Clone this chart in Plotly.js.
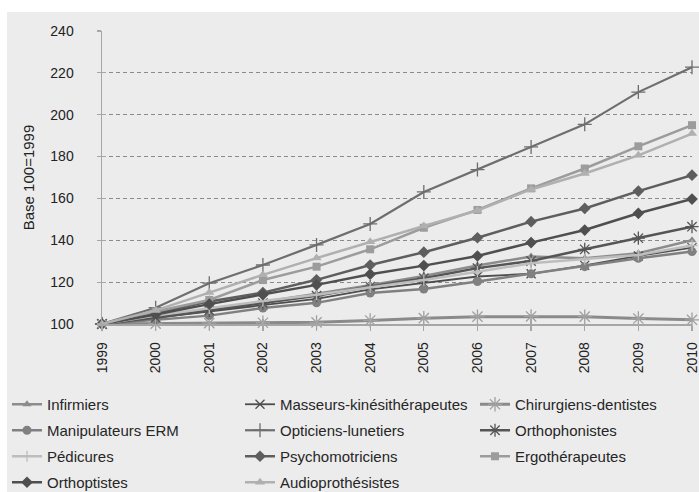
<!DOCTYPE html>
<html>
<head>
<meta charset="utf-8">
<script src="https://cdn.plot.ly/plotly-3.0.1.min.js"></script>
<style>html,body{margin:0;padding:0;background:#fff;}#chart{width:699px;height:492px;}</style>
</head>
<body>
<div id="chart"></div>
<script>
var years = ['1999','2000','2001','2002','2003','2004','2005','2006','2007','2008','2009','2010'];
var yTicks = [100,120,140,160,180,200,220,240];

var infirmiers       = [100, 103.5, 107, 110.5, 114.5, 118.5, 123, 128, 132.2, 131.4, 133.8, 140];
var masseurs         = [100, 103, 106, 109, 112, 116.5, 119.5, 122.7, 124, 128, 132.5, 136.5];
var chirurgiens      = [100, 100.2, 100.4, 100.6, 100.8, 101.7, 102.8, 103.5, 103.6, 103.5, 102.6, 102];
var manipulateurs    = [100, 102, 104, 107.6, 110.1, 114.8, 116.7, 120.3, 124, 127.4, 131.4, 134.6];
var opticiens        = [100, 107.8, 119.5, 128.2, 137.8, 147.8, 163.1, 173.8, 184.6, 195.4, 210.8, 222.7];
var orthophonistes   = [100, 103, 106.5, 110, 113.5, 117.9, 121.9, 126.7, 130.1, 135.7, 141, 146.5];
var pedicures        = [100, 104, 107.5, 111, 114, 117.5, 121, 125, 129, 131, 133, 137.5];
var psychomotriciens = [100, 105, 110.8, 115, 121.1, 128.2, 134.3, 141.2, 148.9, 155.2, 163.5, 171.1];
var ergotherapeutes  = [100, 106, 111.5, 121, 127.4, 135.7, 146, 154.5, 164.8, 174.3, 184.9, 195];
var orthoptistes     = [100, 104.5, 109.5, 114, 118.7, 123.8, 127.9, 132.5, 138.9, 144.9, 152.9, 159.7];
var audioprothesistes= [100, 106.5, 115, 123.5, 131.5, 139.3, 146.8, 154.2, 164.3, 171.9, 180.6, 191];

var series = [
  {name:'Infirmiers', y:infirmiers, color:'#8c8c8c', sym:'triangle-up', size:8, lw:2.5, leg:'legend'},
  {name:'Masseurs-kinésithérapeutes', y:masseurs, color:'#4d4d4d', sym:'x-thin-open', size:9, lw:1.8, leg:'legend2'},
  {name:'Chirurgiens-dentistes', y:chirurgiens, color:'#8a8a8a', sym:'asterisk-open', size:12, lw:3, leg:'legend3', mcol:'#a0a0a0'},
  {name:'Manipulateurs ERM', y:manipulateurs, color:'#808080', sym:'circle', size:9, lw:2.5, leg:'legend'},
  {name:'Opticiens-lunetiers', y:opticiens, color:'#6e6e6e', sym:'cross-thin-open', size:10, lw:2.2, leg:'legend2'},
  {name:'Orthophonistes', y:orthophonistes, color:'#555555', sym:'asterisk-open', size:11, lw:2.5, leg:'legend3'},
  {name:'Pédicures', y:pedicures, color:'#bdbdbd', sym:'cross-thin-open', size:8, lw:2.5, leg:'legend'},
  {name:'Psychomotriciens', y:psychomotriciens, color:'#5e5e5e', sym:'diamond', size:9, lw:2.5, leg:'legend2'},
  {name:'Ergothérapeutes', y:ergotherapeutes, color:'#9c9c9c', sym:'square', size:8, lw:2.5, leg:'legend3'},
  {name:'Orthoptistes', y:orthoptistes, color:'#4f4f4f', sym:'diamond', size:9, lw:2.5, leg:'legend'},
  {name:'Audioprothésistes', y:audioprothesistes, color:'#b0b0b0', sym:'triangle-up', size:9, lw:2.5, leg:'legend2'}
];

var traces = series.map(function(s){
  var open = s.sym.indexOf('open') >= 0;
  return {
    type:'scatter', mode:'lines+markers', name:s.name, x:years, y:s.y,
    legend:s.leg, legendgroup:s.name, cliponaxis:false,
    line:{color:s.color, width:s.lw},
    marker:{symbol:s.sym, size:s.size, color:s.mcol||s.color,
            line:{color:s.mcol||s.color, width: open ? 1.3 : 0}}
  };
});
// overlay axis only used to draw the inner half of the crossing ticks
traces.push({type:'scatter', x:[], y:[], xaxis:'x2', yaxis:'y2', showlegend:false, hoverinfo:'skip'});

var F = 'Arial, "Liberation Sans", sans-serif';
var W = 699, H = 492, L = 102, R = 7, T = 31, B = 168;
var pw = W - L - R, ph = H - T - B;
function px(x){ return (x - L) / pw; }
function py(y){ return (H - B - y) / ph; }

var legBase = {orientation:'v', xanchor:'left', yanchor:'top', bgcolor:'rgba(0,0,0,0)',
  font:{family:F, size:15, color:'#262626'}, tracegroupgap:3.5, itemclick:false};
function leg(x){ var o = JSON.parse(JSON.stringify(legBase)); o.x = px(x); o.y = py(388); return o; }

var layout = {
  width:W, height:H,
  margin:{l:L, r:R, t:T, b:B, pad:0, autoexpand:false},
  paper_bgcolor:'#ececec', plot_bgcolor:'#ececec',
  font:{family:F, size:14, color:'#222'},
  showlegend:true,
  xaxis:{type:'category', categoryorder:'array', categoryarray:years, range:[0, years.length-1],
    showgrid:false, zeroline:false, showline:true, linecolor:'#a6a6a6', linewidth:1.5,
    ticks:'outside', ticklen:5, tickcolor:'#a6a6a6', tickwidth:1.2, tickangle:-90,
    tickfont:{family:F, size:14, color:'#222'}, ticklabelstandoff:6, automargin:false},
  yaxis:{range:[100,240], tickvals:yTicks, showgrid:true, gridcolor:'#8a8a8a', gridwidth:1, griddash:'4px,3px',
    zeroline:false, showline:true, linecolor:'#a6a6a6', linewidth:1.5,
    ticks:'outside', ticklen:4, tickcolor:'#a6a6a6', tickwidth:1.2,
    tickfont:{family:F, size:14, color:'#222'}, ticklabelstandoff:20, automargin:false,
    title:{text:'Base 100=1999', font:{family:F, size:15, color:'#222'}, standoff:12}},
  xaxis2:{type:'category', categoryorder:'array', categoryarray:years, range:[0, years.length-1],
    overlaying:'x', anchor:'y2', showgrid:false, zeroline:false, showline:false,
    ticks:'inside', ticklen:5, tickcolor:'#a6a6a6', tickwidth:1.2, showticklabels:false},
  yaxis2:{range:[100,240], tickvals:yTicks, overlaying:'y', anchor:'x2', side:'left',
    showgrid:false, zeroline:false, showline:false,
    ticks:'inside', ticklen:4, tickcolor:'#a6a6a6', tickwidth:1.2, showticklabels:false},
  legend: leg(7),
  legend2: leg(240),
  legend3: leg(475),
  shapes:[
    {type:'rect', xref:'paper', yref:'paper', x0:px(-5), x1:px(W+5), y0:py(12), y1:py(-5), fillcolor:'#ffffff', line:{width:0}, layer:'above'},
    {type:'rect', xref:'paper', yref:'paper', x0:px(-5), x1:px(7), y0:py(H+5), y1:py(-5), fillcolor:'#ffffff', line:{width:0}, layer:'above'}
  ]
};

Plotly.newPlot('chart', traces, layout, {displayModeBar:false, staticPlot:true});
</script>
</body>
</html>
